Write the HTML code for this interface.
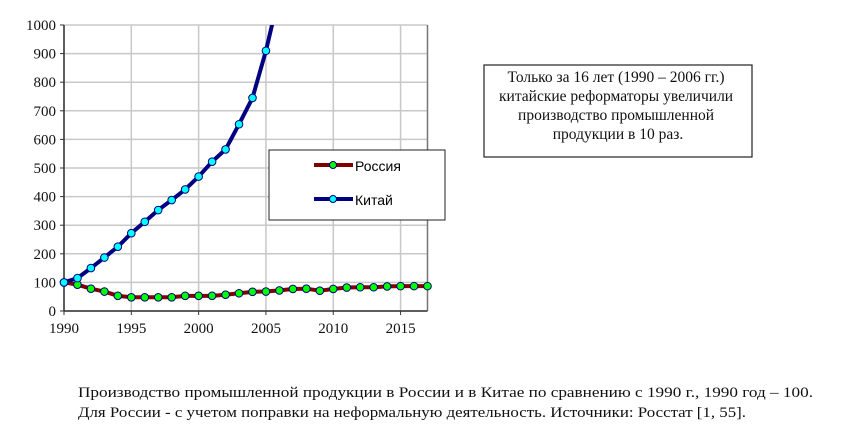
<!DOCTYPE html>
<html><head><meta charset="utf-8">
<style>body{margin:0;background:#fff}svg{display:block}</style></head>
<body>
<svg id="chart" width="843" height="444" xmlns="http://www.w3.org/2000/svg" font-family="'Liberation Serif', serif">
<defs><clipPath id="plotclip"><rect x="64" y="25" width="364" height="287"/></clipPath></defs>
<g id="grid"></g>
<g id="axes"></g>
<g id="series" clip-path="url(#plotclip)"></g>
<g id="markers"></g>
<g>
<rect x="269" y="150" width="176" height="70" fill="#fff" stroke="#222" stroke-width="1"/>
<g>
<line x1="314" y1="165" x2="353" y2="165" stroke="#800000" stroke-width="4"/>
<circle cx="333" cy="165" r="3.5" fill="#00ff00" stroke="#000080" stroke-width="1"/>
<text x="355" y="171" font-family="'Liberation Sans', sans-serif" font-size="14">Россия</text></g>
<g>
<line x1="314" y1="199" x2="353" y2="199" stroke="#000080" stroke-width="4"/>
<circle cx="333" cy="199" r="3.5" fill="#00ffff" stroke="#000080" stroke-width="1"/>
<text x="355" y="205" font-family="'Liberation Sans', sans-serif" font-size="14">Китай</text></g>
</g>
<g>
<rect x="484" y="65" width="268" height="92" fill="#fff" stroke="#222" stroke-width="1.2"/>
<text text-anchor="middle" font-size="15.5" fill="#111">
<tspan x="618" y="82">Только за 16 лет  (1990 – 2006 гг.)</tspan>
<tspan x="618" y="101">китайские реформаторы увеличили</tspan>
<tspan x="618" y="120">производство промышленной</tspan>
<tspan x="618" y="139">продукции в 10 раз.</tspan></text>
</g>
<g font-size="15" fill="#111">
<text x="78" y="397" textLength="735" lengthAdjust="spacingAndGlyphs">Производство промышленной продукции в России и в Китае по сравнению с 1990 г., 1990 год – 100.</text>
<text x="78" y="417" textLength="668" lengthAdjust="spacingAndGlyphs">Для России -  с учетом поправки на неформальную деятельность. Источники: Росстат [1, 55].</text>
</g>
</svg>
<script>
const years = [1990,1991,1992,1993,1994,1995,1996,1997,1998,1999,2000,2001,2002,2003,2004,2005,2006,2007,2008,2009,2010,2011,2012,2013,2014,2015,2016,2017];
const russia = [100,92,78,68,53,48,48,48,48,53,53,53,57,62,67,68,72,77,78,71,77,82,83,83,86,87,87,87];
const chinaYears = [1990,1991,1992,1993,1994,1995,1996,1997,1998,1999,2000,2001,2002,2003,2004,2005,2006];
const china = [100,115,150,187,225,272,312,353,388,425,470,522,565,653,745,910,1110];
const yTicks = [0,100,200,300,400,500,600,700,800,900,1000];
const xTicks = [1990,1995,2000,2005,2010,2015];
const NS='http://www.w3.org/2000/svg';
const X0=64,X1=427.5,Y0=311,Y1=25;
const xs=y=>X0+(y-1990)*(X1-X0)/27;
const ys=v=>Y0-v*(Y0-Y1)/1000;
function mk(tag,attrs,parent){const e=document.createElementNS(NS,tag);for(const k in attrs)e.setAttribute(k,attrs[k]);parent.appendChild(e);return e;}
const grid=document.getElementById('grid'),axes=document.getElementById('axes'),ser=document.getElementById('series'),mkr=document.getElementById('markers');
yTicks.forEach(v=>{
 const l=mk('line',{x1:X0,x2:X1,y1:ys(v),y2:ys(v),stroke:'#c8c8c8','stroke-width':1.5},grid);
 
 
 const t=mk('text',{x:56,y:ys(v)+5,'text-anchor':'end','font-size':15,fill:'#111'},axes);t.textContent=v;
 
 
 mk('line',{x1:X0-4,x2:X0,y1:ys(v),y2:ys(v),stroke:'#333'},axes);
});
xTicks.forEach(y=>{
 const l=mk('line',{x1:xs(y),x2:xs(y),y1:Y1,y2:Y0,stroke:'#c8c8c8','stroke-width':1.5},grid);
 
 
 const t=mk('text',{x:xs(y),y:Y0+22,'text-anchor':'middle','font-size':15,fill:'#111'},axes);t.textContent=y;
 
 
 mk('line',{x1:xs(y),x2:xs(y),y1:Y0,y2:Y0+4,stroke:'#333'},axes);
});
mk('line',{x1:X1,x2:X1,y1:Y1,y2:Y0,stroke:'#777','stroke-width':1.5},axes);
mk('line',{x1:X0,x2:X0,y1:Y1,y2:Y0,stroke:'#333','stroke-width':1.5},axes);
mk('line',{x1:X0,x2:X1,y1:Y0,y2:Y0,stroke:'#333','stroke-width':1.5},axes);
function series(xv,vals,color,fill,name){
 const p=mk('polyline',{points:xv.map((y,i)=>xs(y)+','+ys(vals[i])).join(' '),fill:'none',stroke:color,'stroke-width':4,'stroke-linejoin':'round'},ser);
 
 
 xv.forEach((y,i)=>{ if(vals[i]>1000) return;
  const c=mk('circle',{cx:xs(y),cy:ys(vals[i]),r:3.8,fill:fill,stroke:'#000080','stroke-width':1},mkr);
  
  
 });
}
series(years,russia,'#800000','#00ff00','russia');
series(chinaYears,china,'#000080','#00ffff','china');
</script>
</body></html>
